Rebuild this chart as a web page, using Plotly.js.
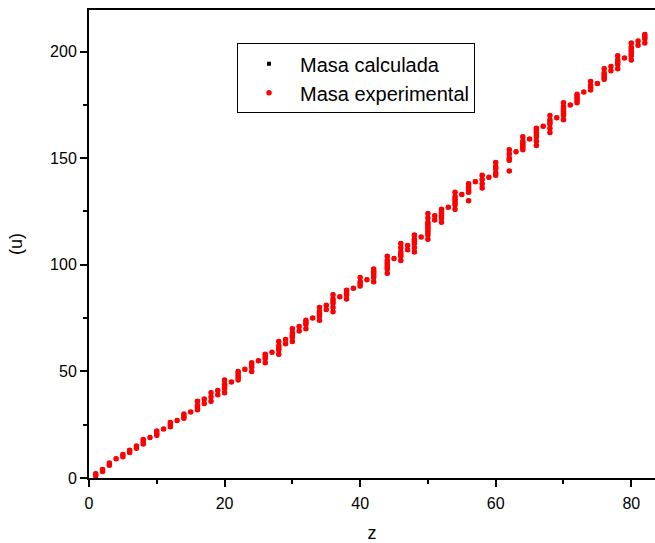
<!DOCTYPE html>
<html>
<head>
<meta charset="utf-8">
<script src="https://cdn.plot.ly/plotly-3.0.1.min.js"></script>
<style>html,body{margin:0;padding:0;background:#fff;}#chart{width:655px;height:543px;}</style>
</head>
<body>
<div id="chart"></div>
<script>
// Atomic number (z) of each nuclide
const zValues = [
  1,1,
  2,2,
  3,3,
  4,
  5,5,
  6,6,
  7,7,
  8,8,8,
  9,
  10,10,10,
  11,
  12,12,12,
  13,
  14,14,14,
  15,
  16,16,16,16,
  17,17,
  18,18,18,
  19,19,
  20,20,20,20,20,
  21,
  22,22,22,22,22,
  23,
  24,24,24,24,
  25,
  26,26,26,26,
  27,
  28,28,28,28,28,
  29,29,
  30,30,30,30,30,
  31,31,
  32,32,32,32,
  33,
  34,34,34,34,34,
  35,35,
  36,36,36,36,36,36,
  37,
  38,38,38,38,
  39,
  40,40,40,40,
  41,
  42,42,42,42,42,42,
  44,44,44,44,44,44,44,
  45,
  46,46,46,46,46,46,
  47,47,
  48,48,48,48,48,48,
  49,
  50,50,50,50,50,50,50,50,50,50,
  51,51,
  52,52,52,52,52,52,
  53,
  54,54,54,54,54,54,54,
  55,
  56,56,56,56,56,56,
  57,
  58,58,58,58,
  59,
  60,60,60,60,60,
  62,62,62,62,62,
  63,
  64,64,64,64,64,64,
  65,
  66,66,66,66,66,66,66,
  67,
  68,68,68,68,68,68,
  69,
  70,70,70,70,70,70,70,
  71,
  72,72,72,72,72,
  73,
  74,74,74,74,
  75,
  76,76,76,76,76,
  77,77,
  78,78,78,78,78,
  79,
  80,80,80,80,80,80,80,
  81,81,
  82,82,82,82
];

// Experimental mass (u)
const masaExperimental = [
  1,2,
  3,4,
  6,7,
  9,
  10,11,
  12,13,
  14,15,
  16,17,18,
  19,
  20,21,22,
  23,
  24,25,26,
  27,
  28,29,30,
  31,
  32,33,34,36,
  35,37,
  36,38,40,
  39,41,
  40,42,43,44,46,
  45,
  46,47,48,49,50,
  51,
  50,52,53,54,
  55,
  54,56,57,58,
  59,
  58,60,61,62,64,
  63,65,
  64,66,67,68,70,
  69,71,
  70,72,73,74,
  75,
  74,76,77,78,80,
  79,81,
  78,80,82,83,84,86,
  85,
  84,86,87,88,
  89,
  90,91,92,94,
  93,
  92,94,95,96,97,98,
  96,98,99,100,101,102,104,
  103,
  102,104,105,106,108,110,
  107,109,
  106,108,110,111,112,114,
  113,
  112,114,115,116,117,118,119,120,122,124,
  121,123,
  120,122,123,124,125,126,
  127,
  126,128,129,130,131,132,134,
  133,
  130,134,135,136,137,138,
  139,
  136,138,140,142,
  141,
  142,143,145,146,148,
  144,149,150,152,154,
  153,
  154,155,156,157,158,160,
  159,
  156,158,160,161,162,163,164,
  165,
  162,164,166,167,168,170,
  169,
  168,170,171,172,173,174,176,
  175,
  176,177,178,179,180,
  181,
  182,183,184,186,
  185,
  187,188,189,190,192,
  191,193,
  192,194,195,196,198,
  197,
  196,198,199,200,201,202,204,
  203,205,
  204,206,207,208
];

// Calculated mass (u) – coincides with the experimental one at this scale
const masaCalculada = masaExperimental.slice();

const xTicks = [0, 20, 40, 60, 80];
const yTicks = [0, 50, 100, 150, 200];

const font = {family: 'Arial, "Liberation Sans", sans-serif', color: '#000'};

const traces = [
  {
    type: 'scatter', mode: 'markers', name: 'Masa calculada',
    x: zValues, y: masaCalculada,
    marker: {symbol: 'square', size: 4, color: '#000'}
  },
  {
    type: 'scatter', mode: 'markers', name: 'Masa experimental',
    x: zValues, y: masaExperimental,
    marker: {symbol: 'circle', size: 5.5, color: '#ff0000'}
  }
];

const layout = {
  width: 655, height: 543,
  margin: {l: 89, r: 0, t: 10, b: 65},
  paper_bgcolor: '#fff', plot_bgcolor: '#fff',
  font: Object.assign({size: 16}, font),
  showlegend: true,
  legend: {
    x: 0.2615, y: 0.929, xanchor: 'left', yanchor: 'top',
    bgcolor: '#fff', bordercolor: '#000', borderwidth: 1,
    font: Object.assign({size: 20}, font),
    itemwidth: 52
  },
  xaxis: {
    range: [0, 83.5], autorange: false,
    tickvals: xTicks, ticktext: xTicks.map(String),
    showgrid: false, zeroline: false,
    showline: true, linecolor: '#000', linewidth: 2, mirror: true,
    ticks: 'outside', ticklen: 7, tickwidth: 2, tickcolor: '#000',
    ticklabelstandoff: 3,
    minor: {tickvals: [10, 30, 50, 70], ticks: 'outside', ticklen: 4, tickwidth: 2, tickcolor: '#000', showgrid: false},
    tickfont: Object.assign({size: 16}, font),
    title: {text: 'z', font: Object.assign({size: 18}, font), standoff: 20}
  },
  yaxis: {
    range: [0, 219.5], autorange: false,
    tickvals: yTicks, ticktext: yTicks.map(String),
    showgrid: false, zeroline: false,
    showline: true, linecolor: '#000', linewidth: 2, mirror: false,
    ticks: 'outside', ticklen: 7, tickwidth: 2, tickcolor: '#000',
    minor: {tickvals: [25, 75, 125, 175], ticks: 'outside', ticklen: 4, tickwidth: 2, tickcolor: '#000', showgrid: false},
    tickfont: Object.assign({size: 16}, font),
    title: {text: '(u)', font: Object.assign({size: 18}, font), standoff: 23}
  }
};

Plotly.newPlot('chart', traces, layout, {displayModeBar: false, staticPlot: true});
</script>
</body>
</html>
